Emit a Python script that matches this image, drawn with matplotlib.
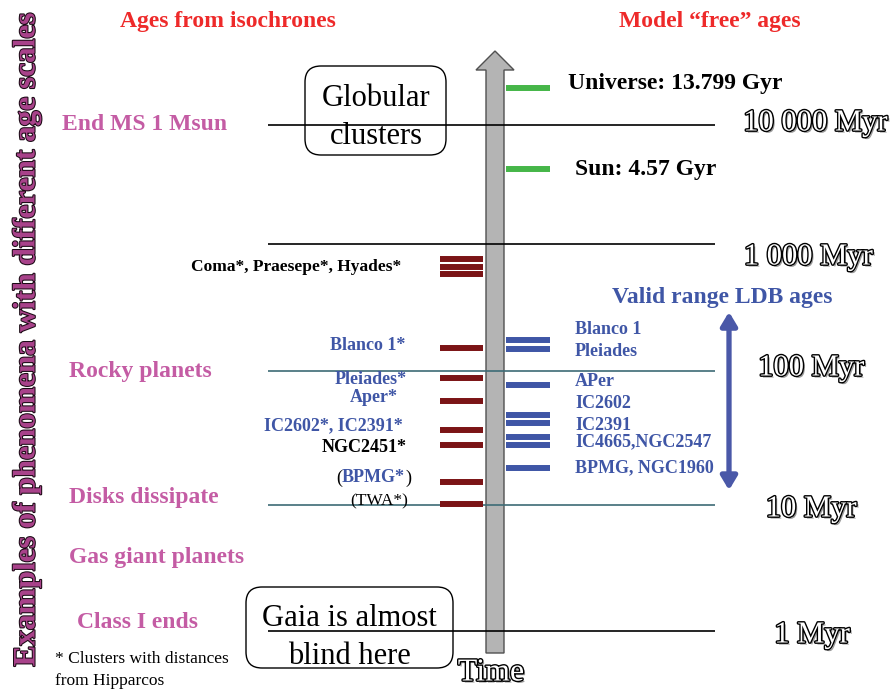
import numpy as np
import matplotlib
matplotlib.use('Agg')
import matplotlib.pyplot as plt
import matplotlib.patheffects as pe
import matplotlib.transforms as mtransforms
from matplotlib.patches import Polygon, FancyBboxPatch

plt.rcParams['font.family'] = ['Liberation Serif', 'DejaVu Serif']

# ages in Myr, as placed on the diagram
decades = [1, 10, 100, 1000, 10000]
decade_labels = ['1 Myr', '10 Myr', '100 Myr', '1 000 Myr', '10 000 Myr']
decade_colors = ['black', '#3d6b76', '#3d6b76', 'black', 'black']

free_labels = ['Universe: 13.799 Gyr', 'Sun: 4.57 Gyr']
free_ages = [20500, 4270]

# isochrone ages (left, dark red) and LDB ages (right, blue)
iso_ages = [763, 662, 583, 151, 89, 60, 36, 28, 14.8, 10.1]
ldb_ages = [175, 150, 78, 47, 41, 32, 28, 19]
ldb_range = [292, 12.9]

iso_labels = ['Coma*, Praesepe*, Hyades*', 'Blanco 1*', 'Pleiades*', 'Aper*',
              'IC2602*, IC2391*', 'NGC2451*']
iso_label_colors = ['black', '#3f56a6', '#3f56a6', '#3f56a6', '#3f56a6', 'black']
ldb_labels = ['Blanco 1', 'Pleiades', 'APer', 'IC2602', 'IC2391',
              'IC4665,NGC2547', 'BPMG, NGC1960']
phenomena = ['End MS 1 Msun', 'Rocky planets', 'Disks dissipate',
             'Gas giant planets', 'Class I ends']

RED = '#7b1416'
BLUE = '#3f56a6'
GREEN = '#46b649'
PINK = '#c45ca4'
TITLE_RED = '#ee2a2a'

# piecewise log scale (diagram is not exactly logarithmic)
LOGS = [-1, 0, 1, 2, 3, 4, 5, 6]
HGT = [-67, 59, 185, 319, 446, 565, 684, 803]


def fwd(a):
    a = np.maximum(np.asarray(a, dtype=float), 1e-12)
    return np.interp(np.log10(a), LOGS, HGT)


def inv(h):
    return 10 ** np.interp(np.asarray(h, dtype=float), HGT, LOGS)


fig = plt.figure(figsize=(8.94, 6.9), dpi=100)
ax = fig.add_axes([0, 0, 1, 1])
ax.set_xlim(0, 894)
ax.set_yscale('function', functions=(fwd, inv))
ax.set_ylim(inv(0), inv(690))
ax.axis('off')

# pixel coordinates (origin top-left) for layout items
px = mtransforms.Affine2D().scale(1 / 894, -1 / 690).translate(0, 1) + fig.transFigure


def t(x, y, s, **kw):
    kw.setdefault('va', 'center')
    return ax.text(x, y, s, transform=px, **kw)


outline = [pe.SimplePatchShadow(offset=(1.5, -1.5), shadow_rgbFace='0.35', alpha=0.6),
           pe.Stroke(linewidth=2.0, foreground='black'), pe.Normal()]

# time arrow
arrow = Polygon([(486, 653), (504, 653), (504, 70), (514, 70), (495, 51),
                 (476, 70), (486, 70)], closed=True, transform=px,
                facecolor='#b4b4b4', edgecolor='#505050', lw=1, zorder=1)
ax.add_patch(arrow)
t(491, 673, 'Time', fontsize=23, ha='center', color='white', path_effects=outline)

# decade lines
ax.hlines(decades, 268, 715, colors=decade_colors, lw=1.2, zorder=3)
lab_pos = [(812, 635), (811, 509), (811, 368), (808, 257), (815, 123)]
for (x, y), s in zip(lab_pos, decade_labels):
    t(x, y, s, fontsize=22, ha='center', color='white', path_effects=outline)

# bars
ax.hlines(iso_ages, 440, 483, colors=RED, lw=4.3, zorder=4)
ax.hlines(ldb_ages, 506, 550, colors=BLUE, lw=4.3, zorder=4)
ax.hlines(free_ages, 506, 550, colors=GREEN, lw=4.3, zorder=4)

# LDB range arrow
ax.annotate('', xy=(729, ldb_range[1]), xytext=(729, ldb_range[0]),
            arrowprops=dict(arrowstyle='<|-|>,head_width=0.24,head_length=0.4',
                            mutation_scale=20, lw=3.8, color='#4a58a8',
                            shrinkA=0, shrinkB=0))

# titles
t(228, 21, 'Ages from isochrones', fontsize=17, weight='bold', ha='center', color=TITLE_RED)
t(710, 21, 'Model \u201cfree\u201d ages', fontsize=17, weight='bold', ha='center', color=TITLE_RED)
t(27, 339, 'Examples of phenomena with different age scales', fontsize=22.5,
  weight='bold', ha='center', rotation=90, color='#a8428a',
  path_effects=[pe.Stroke(linewidth=1.5, foreground='#1a0a14'), pe.Normal()])

# free ages labels
t(568, 83, free_labels[0], fontsize=17, weight='bold')
t(575, 169, free_labels[1], fontsize=17, weight='bold')

# phenomena
ph_pos = [(62, 125), (69, 371), (69, 497), (69, 557), (77, 623)]
for (x, y), s in zip(ph_pos, phenomena):
    t(x, y, s, fontsize=17, weight='bold', color=PINK)

# isochrone cluster labels
iso_pos = [(401, 267), (405, 345), (407, 379), (398, 397), (403, 426), (407, 448)]
for (x, y), s, c in zip(iso_pos, iso_labels, iso_label_colors):
    t(x, y, s, fontsize=12.5 if y < 300 else 13, weight='bold', ha='right', color=c)
t(411, 478, ')', fontsize=13, ha='right')
t(405, 478, 'BPMG*', fontsize=13, weight='bold', ha='right', color=BLUE)
t(342, 478, '(', fontsize=13, ha='right')
t(408, 501, '(TWA*)', fontsize=12.5, ha='right')

# LDB labels
ldb_y = [329, 352, 382, 404, 425, 442, 468]
for y, s in zip(ldb_y, ldb_labels):
    t(575, y, s, fontsize=13, weight='bold', color=BLUE)
t(722, 297, 'Valid range LDB ages', fontsize=17, weight='bold', ha='center', color=BLUE)

# rounded boxes
for (x0, y0, w, h) in [(305, 66, 141, 89), (246, 587, 207, 81)]:
    ax.add_patch(FancyBboxPatch((x0, y0), w, h, boxstyle='round,pad=0,rounding_size=16',
                                transform=px, facecolor='none', edgecolor='black',
                                lw=1, zorder=2))
t(376, 98, 'Globular', fontsize=22, ha='center')
t(376, 136, 'clusters', fontsize=22, ha='center')
t(349, 618, 'Gaia is almost', fontsize=22, ha='center')
t(349, 656, 'blind here', fontsize=22, ha='center')

# footnote
t(55, 659, '* Clusters with distances', fontsize=12.5)
t(55, 681, 'from Hipparcos', fontsize=12.5)

fig.savefig('out.png', dpi=100)
